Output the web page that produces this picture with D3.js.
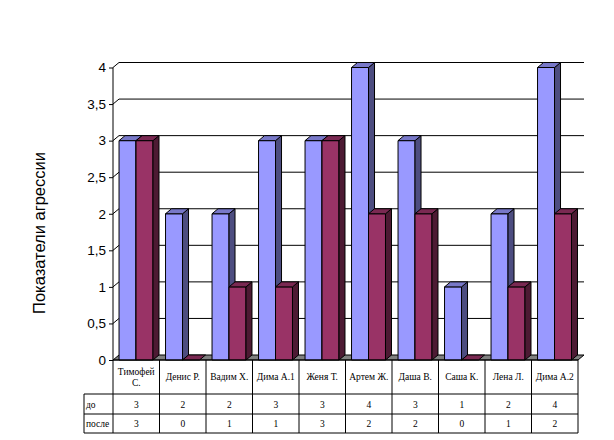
<!DOCTYPE html>
<html><head><meta charset="utf-8">
<script src="https://cdn.jsdelivr.net/npm/d3@7"></script>
<style>body{margin:0;background:#fff}svg{display:block}</style>
</head><body>
<script>
const categories = ["Тимофей С.","Денис Р.","Вадим Х.","Дима А.1","Женя Т.","Артем Ж.","Даша В.","Саша К.","Лена Л.","Дима А.2"];
const seriesNames = ["до","после"];
const before = [3,2,2,3,3,4,3,1,2,4];
const after = [3,0,1,1,3,2,2,0,1,2];
const yTicks = [0,0.5,1,1.5,2,2.5,3,3.5,4];
const yTitle = "Показатели агрессии";

const W=614,H=440;
const svg=d3.select("body").append("svg").attr("width",W).attr("height",H);
const left=113,right=578,dx=6,dy=5;
const x=d3.scaleBand().domain(categories).range([left,right]).padding(0);
const y=d3.scaleLinear().domain([0,4]).range([360,67.5]);
const bw=x.bandwidth();
const fmt=v=>String(v).replace(".",",");

// gridlines
svg.append("g").selectAll("path").data(yTicks.filter(t=>t>0)).join("path")
 .attr("d",t=>`M${left},${y(t)}L${left+dx},${y(t)-dy}L${right+dx},${y(t)-dy}`)
 .attr("fill","none").attr("stroke","#000").attr("stroke-width",1);

// floor
svg.append("path").attr("d",`M${left},${y(0)}L${left+dx},${y(0)-dy}L${right+dx},${y(0)-dy}L${right},${y(0)}Z`)
 .attr("fill","#808080").attr("stroke","#000");

// y axis
const ya=svg.append("g").attr("transform",`translate(${left},0)`)
 .call(d3.axisLeft(y).tickValues(yTicks).tickFormat(fmt).tickSize(4).tickPadding(3));
ya.select(".domain").attr("d",`M0,${y(0)}V${y(4)}`);
ya.selectAll("text").attr("font-family","Liberation Sans, Arial").attr("font-size","13.5px").attr("fill","#000");

// bars
const palettes=[{front:"#9999FF",top:"#7878C8",side:"#4D4D80"},{front:"#993366",top:"#7A2952",side:"#4D1A33"}];
const data=[];
categories.forEach((c,i)=>{[before[i],after[i]].forEach((v,s)=>data.push({c,v,s}));});
const bg=svg.append("g");
data.forEach(d=>{
  const bx=x(d.c)+bw*0.13+d.s*bw*0.365, w=bw*0.365;
  const y0=y(0), yv=y(d.v), p=palettes[d.s];
  const g=bg.append("g").attr("stroke","#000").attr("stroke-width",1).attr("stroke-linejoin","round");
  if(d.v>0){
    g.append("rect").attr("x",bx).attr("y",yv).attr("width",w).attr("height",y0-yv).attr("fill",p.front);
    g.append("path").attr("d",`M${bx+w},${yv}L${bx+w+dx},${yv-dy}L${bx+w+dx},${y0-dy}L${bx+w},${y0}Z`).attr("fill",p.side);
  }
  g.append("path").attr("d",`M${bx},${yv}L${bx+dx},${yv-dy}L${bx+w+dx},${yv-dy}L${bx+w},${yv}Z`).attr("fill",p.top);
});

// data table
const tg=svg.append("g").attr("stroke","#000").attr("stroke-width",1).attr("fill","none");
const r0=360,r1=394,r2=414,r3=433,lc=84;
tg.append("line").attr("x1",left).attr("x2",right).attr("y1",r0).attr("y2",r0);
[r1,r2,r3].forEach(r=>tg.append("line").attr("x1",lc).attr("x2",right).attr("y1",r).attr("y2",r));
tg.append("line").attr("x1",lc).attr("x2",lc).attr("y1",r1).attr("y2",r3);
tg.selectAll("line.v").data(categories).join("line").attr("class","v")
 .attr("x1",c=>x(c)).attr("x2",c=>x(c)).attr("y1",r0).attr("y2",r3);
tg.append("line").attr("x1",right).attr("x2",right).attr("y1",r0).attr("y2",r3);

const tf="Liberation Serif, Times New Roman, serif";
const cl=svg.append("g").attr("font-family",tf).attr("font-size","9.5px").attr("text-anchor","middle");
categories.forEach(c=>{
  const parts = (c.length>9) ? c.split(" ") : [c];
  const t=cl.append("text").attr("x",x(c)+bw/2).attr("y",(r0+r1)/2+3-(parts.length-1)*5.5);
  parts.forEach((p,i)=>t.append("tspan").attr("x",x(c)+bw/2).attr("dy",i?11:0).text(p));
});
[before,after].forEach((arr,s)=>{
  const ry=[(r1+r2)/2+3.5,(r2+r3)/2+3.5][s];
  cl.append("text").attr("x",lc+2).attr("y",ry).attr("text-anchor","start").text(seriesNames[s]);
  arr.forEach((v,i)=>cl.append("text").attr("x",x(categories[i])+bw/2).attr("y",ry).text(v));
});

// y title
svg.append("text").attr("transform","translate(45,233) rotate(-90)").attr("text-anchor","middle")
 .attr("font-family","Liberation Sans, Arial").attr("font-size","16.5px").text(yTitle);
</script>
</body></html>
